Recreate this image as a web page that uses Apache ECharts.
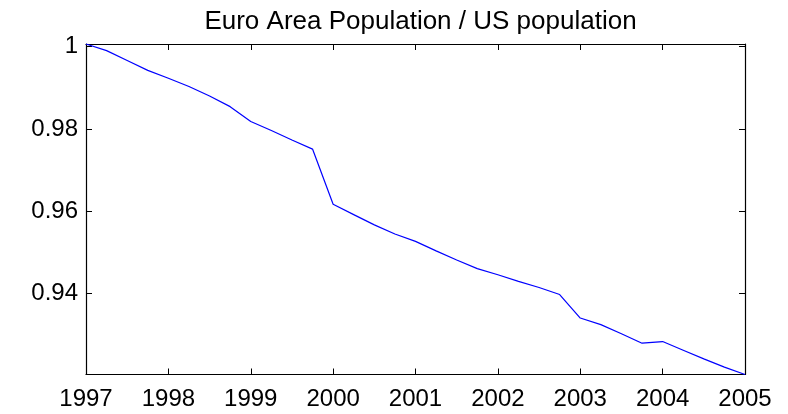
<!DOCTYPE html>
<html>
<head>
<meta charset="utf-8">
<script src="https://cdn.jsdelivr.net/npm/echarts@6/dist/echarts.min.js"></script>
<style>html,body{margin:0;padding:0;background:#fff}#c{width:788px;height:414px}</style>
</head>
<body>
<div id="c"></div>
<script>
var titleText = 'Euro Area Population / US population';
var times = [1997, 1997.25, 1997.5, 1997.75, 1998, 1998.25, 1998.5, 1998.75,
  1999, 1999.25, 1999.5, 1999.75, 2000, 2000.25, 2000.5, 2000.75,
  2001, 2001.25, 2001.5, 2001.75, 2002, 2002.25, 2002.5, 2002.75,
  2003, 2003.25, 2003.5, 2003.75, 2004, 2004.25, 2004.5, 2004.75, 2005];
var ratio = [1.0006, 0.9990, 0.9966, 0.9942, 0.9923, 0.9903, 0.9880, 0.9854,
  0.9818, 0.9796, 0.9773, 0.9751, 0.9617, 0.9592, 0.9567, 0.9545,
  0.9527, 0.9504, 0.9482, 0.9461, 0.9446, 0.9430, 0.9415, 0.9398,
  0.9341, 0.9325, 0.9303, 0.9280, 0.9284, 0.9263, 0.9242, 0.9222, 0.9204];
var yTicks = [0.94, 0.96, 0.98, 1];
var xMin = 1997, xMax = 2005;
var yMin = 0.9204, yMax = 1.0006;

var data = times.map(function (t, i) { return [t, ratio[i]]; });
var font = 'Liberation Sans, Arial, Helvetica, sans-serif';
var axisLine = { show: true, onZero: false, lineStyle: { color: '#000', width: 1.2 } };
var tick = { show: true, inside: true, length: 6, lineStyle: { color: '#000', width: 1 } };

var chart = echarts.init(document.getElementById('c'), null, { renderer: 'canvas' });
chart.setOption({
  animation: false,
  backgroundColor: '#fff',
  title: {
    text: titleText, left: 415.5, textAlign: 'center', top: 4,
    textStyle: { fontFamily: font, fontSize: 26, fontWeight: 'normal', color: '#000' }
  },
  grid: { left: 86, right: 43, top: 44, bottom: 39.5, containLabel: false },
  xAxis: [{
    type: 'value', min: xMin, max: xMax, interval: 1, position: 'bottom',
    axisLine: axisLine, axisTick: tick, splitLine: { show: false },
    axisLabel: { fontFamily: font, fontSize: 24, color: '#000', margin: 13,
      formatter: function (v) { return String(v); } }
  }, {
    type: 'value', min: xMin, max: xMax, interval: 1, position: 'top',
    axisLine: axisLine, axisTick: tick, splitLine: { show: false },
    axisLabel: { show: false }
  }],
  yAxis: [{
    type: 'value', min: yMin, max: yMax, position: 'left',
    axisLine: axisLine,
    axisTick: Object.assign({}, tick, { customValues: yTicks }),
    splitLine: { show: false },
    axisLabel: { fontFamily: font, fontSize: 24, color: '#000', margin: 8,
      customValues: yTicks, formatter: function (v) { return String(+v.toFixed(2)); } }
  }, {
    type: 'value', min: yMin, max: yMax, position: 'right',
    axisLine: axisLine,
    axisTick: Object.assign({}, tick, { customValues: yTicks }),
    splitLine: { show: false },
    axisLabel: { show: false }
  }],
  series: [{
    type: 'line', data: data, xAxisIndex: 0, yAxisIndex: 0,
    showSymbol: false, symbol: 'none',
    lineStyle: { color: '#0000ff', width: 1.2 },
    clip: false
  }]
});
</script>
</body>
</html>
